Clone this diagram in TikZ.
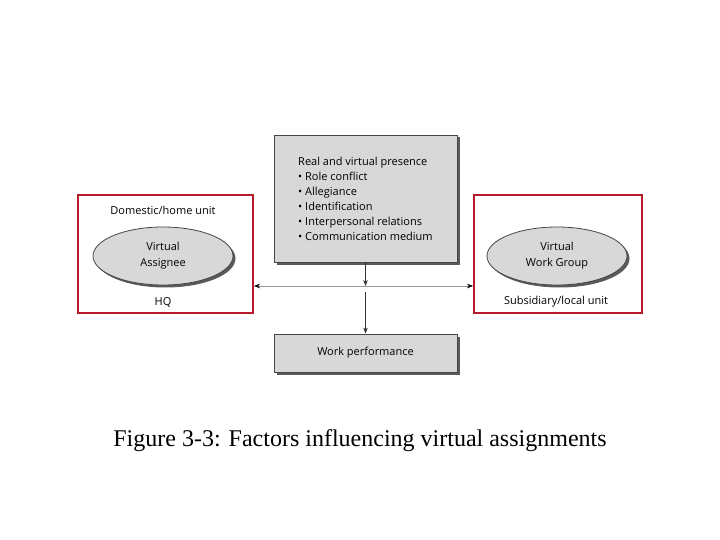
\documentclass[tikz,border=0pt]{standalone}
\usepackage{fontspec}
\setmainfont{Liberation Serif}
\newfontfamily\diag{Open Sans}
\usetikzlibrary{shadows,arrows.meta,positioning,shapes.geometric}
\definecolor{boxgray}{RGB}{216,216,216}
\definecolor{edgegray}{RGB}{70,70,70}
\definecolor{shadowgray}{RGB}{90,90,90}
\definecolor{unitred}{RGB}{182,26,44}
\tikzset{
  graybox/.style={draw=edgegray, line width=0.8pt, fill=boxgray, inner sep=0pt,
    drop shadow={shadow xshift=2.5pt, shadow yshift=-2.5pt, fill=shadowgray, opacity=1}},
  unitbox/.style={draw=unitred, line width=2.9pt, inner sep=0pt},
  actor/.style={ellipse, draw=edgegray, line width=0.8pt, fill=boxgray, inner sep=0pt,
    minimum width=140pt, minimum height=58pt, align=center,
    font=\diag\fontsize{11}{16}\selectfont,
    drop shadow={shadow xshift=2.5pt, shadow yshift=-2.5pt, fill=shadowgray, opacity=1}},
  lbl/.style={font=\diag\fontsize{11}{15}\selectfont, inner sep=0pt},
  arr/.style={-{Stealth[length=6pt,width=4.5pt]}, line width=0.6pt, draw=black!80}
}
\begin{document}
\begin{tikzpicture}[x=1pt,y=-1pt]
\useasboundingbox (0,0) rectangle (720,540);
% red unit frames
\node[unitbox, minimum width=175pt, minimum height=118pt] (home) at (165.5,254) {};
\node[unitbox, minimum width=168pt, minimum height=118pt] (sub) at (558,254) {};
% top factor box
\node[graybox, minimum width=183pt, minimum height=127pt] (factors) at (365.5,198.5) {};
\node[lbl, anchor=north west, align=left] (factortext) at (298,157)
  {Real and virtual presence\\
   • Role conflict\\
   • Allegiance\\
   • Identification\\
   • Interpersonal relations\\
   • Communication medium};
% work performance box
\node[graybox, minimum width=183pt, minimum height=38pt, lbl] (perf) at (365.5,353) {Work performance};
% ellipses
\node[actor] (assignee) at (163,256) {Virtual\\Assignee};
\node[actor] (group) at (557,256) {Virtual\\Work Group};
% unit labels
\node[lbl] (homelbl) at (163,210) {Domestic/home unit};
\node[lbl] (hq) at (163,302) {HQ};
\node[lbl] (sublbl) at (556,302) {Subsidiary/local unit};
% connectors
\coordinate (lineL) at (254,286);
\coordinate (lineR) at (473,286);
\coordinate (mid) at (365.5,286);
\coordinate (midlow) at (365.5,292);
\draw[{Stealth[length=6pt,width=4.5pt,color=black]}-{Stealth[length=6pt,width=4.5pt,color=black]}, line width=0.6pt, draw=black!40] (lineL) -- (lineR);
\draw[arr] (factors.south) -- (mid);
\draw[arr] (midlow) -- (perf.north);
% caption
\node[font=\fontsize{24}{28}\selectfont, inner sep=0pt] (caption) at (360,441) {Figure 3-3: Factors influencing virtual assignments};
\end{tikzpicture}
\end{document}
